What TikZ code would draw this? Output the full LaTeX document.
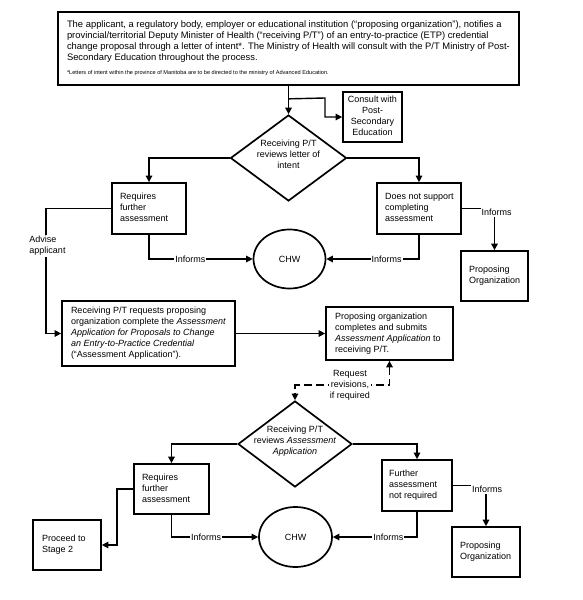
\documentclass[tikz,border=0pt]{standalone}
\usepackage{fontspec}
\setmainfont{Liberation Sans}
\usetikzlibrary{shapes.geometric,arrows.meta}
\newcommand{\dtext}[1]{\smash{\makebox[0pt]{\begin{tabular}{@{}c@{}}#1\end{tabular}}}}
\newcommand{\lbox}[2]{\makebox[#1][l]{\begin{tabular}{@{}l@{}}#2\end{tabular}}}
\newcommand{\cbox}[2]{\makebox[#1][c]{\begin{tabular}{@{}c@{}}#2\end{tabular}}}
\begin{document}
\begin{tikzpicture}[x=1pt,y=-1pt,
  font=\fontsize{9}{11}\selectfont,
  >={Triangle[length=6.5pt,width=6.5pt]},
  box/.style={draw,line width=1.7pt,rectangle,inner xsep=8pt,inner ysep=0pt},
  dia/.style={draw,diamond,line width=1.7pt,minimum width=116pt,minimum height=86pt,inner sep=0pt},
  ell/.style={draw,ellipse,line width=1.7pt,minimum width=72pt,minimum height=59pt,inner sep=0pt},
  conn/.style={line width=1.4pt,->},
  lbl/.style={fill=white,inner sep=1pt}]
\useasboundingbox[fill=white] (0,0) rectangle (582,600);

% nodes
\node[box,minimum height=73pt,inner xsep=9pt,font=\fontsize{9.4}{11.2}\selectfont] (top) at (288.5,48.5)
 {\lbox{443pt}{The applicant, a regulatory body, employer or educational institution (“proposing organization”), notifies a\\
  provincial/territorial Deputy Minister of Health (“receiving P/T”) of an entry-to-practice (ETP) credential\\
  change proposal through a letter of intent*. The Ministry of Health will consult with the P/T Ministry of Post-\\
  Secondary Education throughout the process.\\[2pt]
  {\fontsize{5.6}{6.5}\selectfont *Letters of intent within the province of Manitoba are to be directed to the ministry of Advanced Education.}}};
\node[box,inner xsep=4pt,minimum height=50pt] (cons) at (372.5,117)
 {\cbox{51pt}{Consult with\\Post-\\Secondary\\Education}};
\node[dia] (d1) at (288.5,158) {\dtext{Receiving P/T\\reviews letter of\\intent}};
\node[box,minimum height=51pt] (req1) at (149,208.5) {\lbox{58pt}{Requires\\further\\assessment}};
\node[box,minimum height=51pt] (dns) at (419,208.5) {\lbox{68pt}{Does not support\\completing\\assessment}};
\node[ell] (chw1) at (289.5,259) {CHW};
\node[box,minimum height=50pt] (po1) at (494.5,276) {\lbox{51pt}{Proposing\\Organization}};
\node[box,inner xsep=9pt,minimum height=65pt] (rpr) at (148.5,333.5)
 {\lbox{155pt}{Receiving P/T requests proposing\\organization complete the \textit{Assessment}\\\textit{Application for Proposals to Change}\\\textit{an Entry-to-Practice Credential}\\(“Assessment Application”).}};
\node[box,inner xsep=9pt,minimum height=53pt] (poc) at (389.5,333.5)
 {\lbox{109pt}{Proposing organization\\completes and submits\\\textit{Assessment Application} to\\receiving P/T.}};
\node[dia,minimum width=114pt] (d2) at (295,444) {\dtext{Receiving P/T\\reviews \textit{Assessment}\\\textit{Application}}};
\node[box,minimum height=50pt] (req2) at (171.5,489) {\lbox{59pt}{Requires\\further\\assessment}};
\node[box,inner xsep=7pt,minimum height=51pt] (fan) at (417,485.5) {\lbox{56pt}{Further\\assessment\\not required}};
\node[ell,minimum width=73pt,minimum height=60pt] (chw2) at (295.5,537) {CHW};
\node[box,minimum height=50pt] (po2) at (486,552) {\lbox{52pt}{Proposing\\Organization}};
\node[box,inner xsep=9pt,minimum height=50pt] (pro) at (67,545) {\lbox{50pt}{Proceed to\\Stage 2}};

% helper coordinates
\path (top.south) ++(0,13) coordinate (b1);
\coordinate (b2) at (325,98);
\coordinate (b3) at (325,117);
\coordinate (ax) at (46,0);
\coordinate (r1) at (389.5,385);
\coordinate (px) at (117,0);

% connectors
\draw[conn] (top.south) -- (d1.north);
\draw[conn] (b1) -- (b2) -- (b3) -- (cons.west);
\draw[conn] (d1.west) -| (req1.north);
\draw[conn] (d1.east) -| (dns.north);
\draw[conn] (req1.south) |- (chw1.west) node[lbl,pos=0.7] {Informs};
\draw[conn] (dns.south) |- (chw1.east) node[lbl,pos=0.675] {Informs};
\draw[conn] (dns.east) -| (po1.north) node[lbl,pos=0.5,xshift=2pt,yshift=-4pt] {Informs};
\draw[conn] (req1.west) -- (req1.west -| ax) |- (rpr.west);
\node[lbl,align=left] (adv) at (47.5,246) {Advise\\applicant};
\draw[conn] (rpr.east) -- (poc.west);
\draw[conn,<->,dash pattern=on 8pt off 4pt] (poc.south) -- (r1) -| (d2.north);
\node[lbl,align=center] (rev) at (350,385) {Request\\revisions,\\if required};
\draw[conn] (d2.west) -| (req2.north);
\draw[conn] (d2.east) -| (fan.north);
\draw[conn] (req2.south) |- (chw2.west) node[lbl,pos=0.7] {Informs};
\draw[conn] (fan.south) |- (chw2.east) node[lbl,pos=0.67] {Informs};
\draw[conn] (fan.east) -| (po2.north) node[lbl,pos=0.5,xshift=1pt,yshift=-4pt] {Informs};
\draw[conn] (req2.west) -- (req2.west -| px) |- (pro.east);
\end{tikzpicture}
\end{document}
